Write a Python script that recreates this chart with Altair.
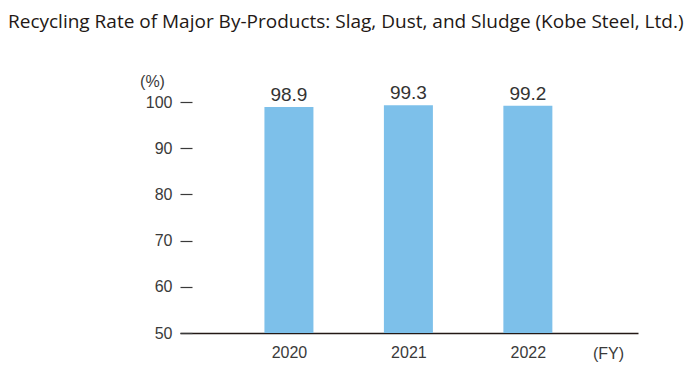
import altair as alt
import pandas as pd

years = [2020, 2021, 2022]
rates = [98.9, 99.3, 99.2]
labels = ["98.9", "99.3", "99.2"]
y_ticks = [50, 60, 70, 80, 90, 100]
baseline_value = 50

df = pd.DataFrame({"year": years, "rate": rates, "label": labels})

x_scale = alt.Scale(domain=[2019.13, 2022.88], nice=False, zero=False)
y_scale = alt.Scale(domain=[50, 100], nice=False, zero=False)

base = alt.Chart(df)

bars = base.mark_bar(size=49, color="#7DC0EA").encode(
    x=alt.X("year:Q", scale=x_scale,
            axis=alt.Axis(values=years, format="d", ticks=False, grid=False,
                          domainColor="#231815", domainWidth=1.6,
                          labelFont="Liberation Sans", labelFontSize=16,
                          labelColor="#3a3a3a", labelPadding=11,
                          title="(FY)", titleFont="Liberation Sans",
                          titleFontSize=16, titleFontWeight="normal",
                          titleColor="#3a3a3a", titleX=428, titleY=12,
                          titleAlign="center", titleBaseline="top")),
    y=alt.Y("rate:Q", scale=y_scale,
            axis=alt.Axis(values=y_ticks, grid=False, domain=False,
                          offset=-12, tickSize=12, tickColor="#3a3a3a",
                          tickWidth=1.2,
                          labelFont="Liberation Sans", labelFontSize=16,
                          labelColor="#3a3a3a", labelPadding=8,
                          title="(%)", titleFont="Liberation Sans",
                          titleFontSize=16, titleFontWeight="normal",
                          titleColor="#3a3a3a", titleAngle=0, titleX=-40,
                          titleY=-21, titleAlign="center",
                          titleBaseline="middle")),
    y2=alt.datum(baseline_value),
)

text = base.mark_text(font="Liberation Sans", fontSize=19, color="#333333",
                      baseline="alphabetic", dy=-6).encode(
    x=alt.X("year:Q", scale=x_scale),
    y=alt.Y("rate:Q", scale=y_scale),
    text="label:N",
)

chart = (bars + text).properties(
    width=458,
    height=231,
    autosize=alt.AutoSizeParams(type="none"),
    padding={"left": 172, "top": 94, "right": 50, "bottom": 38},
    title=alt.TitleParams(
        "Recycling Rate of Major By-Products: Slag, Dust, and Sludge (Kobe Steel, Ltd.)",
        anchor="start", frame="group", dx=-172, font="Open Sans", fontSize=19.0,
        fontWeight="normal", color="#231815", baseline="alphabetic", offset=26,
    ),
).configure_view(stroke=None)

chart.save("out.html", embed_options={"renderer": "svg", "actions": False})
